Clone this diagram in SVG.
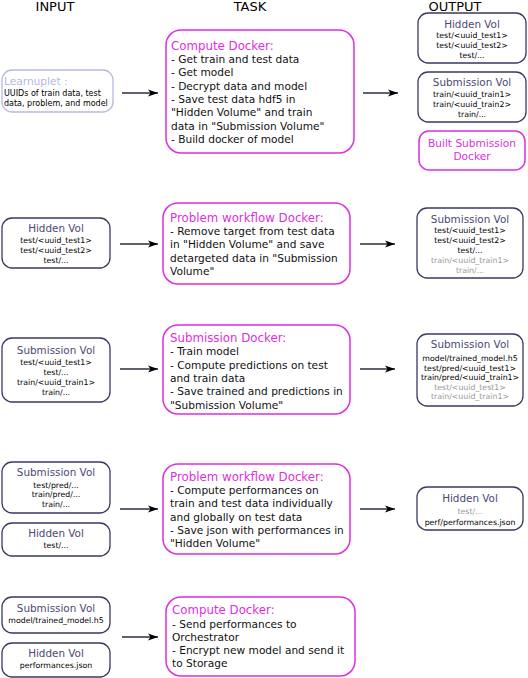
<svg xmlns="http://www.w3.org/2000/svg" width="528" height="678" viewBox="0 0 528 678">
<style>
text{font-family:"DejaVu Sans","Liberation Sans",sans-serif}
.hdr{font-size:13px;fill:#000;text-anchor:middle}
.vol{fill:#fff;stroke:#3b3960;stroke-width:1.3}
.task{fill:#fff;stroke:#dd2fdd;stroke-width:1.5}
.vt{font-size:10.4px;fill:#4b4974;text-anchor:middle}
.vc{font-size:7.8px;fill:#000;text-anchor:middle}
.vg{font-size:7.8px;fill:#999;text-anchor:middle}
.tt{font-size:11.8px;fill:#dd2fdd}
.tb{font-size:10.6px;fill:#111}
.conn line{stroke:#2e2c44;stroke-width:1.3;marker-end:url(#ah)}
</style>
<defs>
<marker id="ah" viewBox="-11 -5 12 10" refX="0" refY="0" markerWidth="12" markerHeight="10" orient="auto" markerUnits="userSpaceOnUse">
<path d="M0,0 L-10,-3.6 L-7.5,0 L-10,3.6 Z" fill="#000"/>
</marker>
</defs>
<rect width="528" height="678" fill="#fff"/>
<g id="headers">
<text class="hdr" x="55" y="10.5">INPUT</text>
<text class="hdr" x="250" y="10.5">TASK</text>
<text class="hdr" x="455" y="10.5">OUTPUT</text>
</g>

<!-- Row 1 -->
<g id="learnuplet">
<rect x="2" y="70" width="111" height="42" rx="10" fill="#fff" stroke="#b6bae2" stroke-width="1.3"/>
<text x="4" y="85" style="font-size:10.6px;fill:#b3b7e3">Learnuplet :</text>
<text x="4" y="96" style="font-size:8px;fill:#000">UUIDs of train data, test</text>
<text x="4" y="106" style="font-size:8px;fill:#000">data, problem, and model</text>
</g>
<g id="task1">
<rect class="task" x="166" y="30" width="188" height="123" rx="15"/>
<text class="tt" x="171" y="49.5">Compute Docker:</text>
<text class="tb" x="171" y="63">- Get train and test data</text>
<text class="tb" x="171" y="76.3">- Get model</text>
<text class="tb" x="171" y="89.6">- Decrypt data and model</text>
<text class="tb" x="171" y="102.9">- Save test data hdf5 in</text>
<text class="tb" x="171" y="116.2">"Hidden Volume" and train</text>
<text class="tb" x="171" y="129.5">data in "Submission Volume"</text>
<text class="tb" x="171" y="142.8">- Build docker of model</text>
</g>
<g id="out1-hidden">
<rect class="vol" x="418" y="13" width="108" height="50" rx="10"/>
<text class="vt" x="472" y="28">Hidden Vol</text>
<text class="vc" x="472" y="38">test/&lt;uuid_test1&gt;</text>
<text class="vc" x="472" y="48">test/&lt;uuid_test2&gt;</text>
<text class="vc" x="472" y="58">test/...</text>
</g>
<g id="out1-submission">
<rect class="vol" x="418" y="72" width="108" height="50" rx="10"/>
<text class="vt" x="472" y="86">Submission Vol</text>
<text class="vc" x="472" y="97">train/&lt;uuid_train1&gt;</text>
<text class="vc" x="472" y="107">train/&lt;uuid_train2&gt;</text>
<text class="vc" x="472" y="117">train/...</text>
</g>
<g id="out1-built">
<rect class="task" x="419" y="131" width="106" height="39" rx="10"/>
<text x="472" y="147" style="font-size:10.6px;fill:#dd2fdd;text-anchor:middle">Built Submission</text>
<text x="472" y="160" style="font-size:10.6px;fill:#dd2fdd;text-anchor:middle">Docker</text>
</g>

<!-- Row 2 -->
<g id="in2-hidden">
<rect class="vol" x="2" y="218" width="108" height="50" rx="10"/>
<text class="vt" x="56" y="232">Hidden Vol</text>
<text class="vc" x="56" y="242.5">test/&lt;uuid_test1&gt;</text>
<text class="vc" x="56" y="252.5">test/&lt;uuid_test2&gt;</text>
<text class="vc" x="56" y="262.5">test/...</text>
</g>
<g id="task2">
<rect class="task" x="163" y="203" width="187" height="81" rx="15"/>
<text class="tt" x="170" y="221.5">Problem workflow Docker:</text>
<text class="tb" x="170" y="235">- Remove target from test data</text>
<text class="tb" x="170" y="248.3">in "Hidden Volume" and save</text>
<text class="tb" x="170" y="261.6">detargeted data in "Submission</text>
<text class="tb" x="170" y="274.9">Volume"</text>
</g>
<g id="out2-submission">
<rect class="vol" x="417" y="208" width="106" height="70" rx="10"/>
<text class="vt" x="470" y="223">Submission Vol</text>
<text class="vc" x="470" y="233">test/&lt;uuid_test1&gt;</text>
<text class="vc" x="470" y="243">test/&lt;uuid_test2&gt;</text>
<text class="vc" x="470" y="253">test/...</text>
<text class="vg" x="470" y="263">train/&lt;uuid_train1&gt;</text>
<text class="vg" x="470" y="273">train/...</text>
</g>

<!-- Row 3 -->
<g id="in3-submission">
<rect class="vol" x="2" y="338" width="108" height="64" rx="10"/>
<text class="vt" x="56" y="354">Submission Vol</text>
<text class="vc" x="56" y="364.5">test/&lt;uuid_test1&gt;</text>
<text class="vc" x="56" y="374.5">test/...</text>
<text class="vc" x="56" y="384.5">train/&lt;uuid_train1&gt;</text>
<text class="vc" x="56" y="394.5">train/...</text>
</g>
<g id="task3">
<rect class="task" x="163" y="325" width="187" height="89" rx="15"/>
<text class="tt" x="170" y="342">Submission Docker:</text>
<text class="tb" x="170" y="355.3">- Train model</text>
<text class="tb" x="170" y="368.6">- Compute predictions on test</text>
<text class="tb" x="170" y="381.9">and train data</text>
<text class="tb" x="170" y="395.2">- Save trained and predictions in</text>
<text class="tb" x="170" y="408.5">"Submission Volume"</text>
</g>
<g id="out3-submission">
<rect class="vol" x="417" y="334" width="106" height="72" rx="10"/>
<text class="vt" x="470" y="348">Submission Vol</text>
<text class="vc" x="470" y="361">model/trained_model.h5</text>
<text class="vc" x="470" y="370.6">test/pred/&lt;uuid_test1&gt;</text>
<text class="vc" x="470" y="380.2">train/pred/&lt;uuid_train1&gt;</text>
<text class="vg" x="470" y="389.8">test/&lt;uuid_test1&gt;</text>
<text class="vg" x="470" y="399.4">train/&lt;uuid_train1&gt;</text>
</g>

<!-- Row 4 -->
<g id="in4-submission">
<rect class="vol" x="2" y="462" width="108" height="51" rx="10"/>
<text class="vt" x="56" y="476">Submission Vol</text>
<text class="vc" x="56" y="487.5">test/pred/...</text>
<text class="vc" x="56" y="497">train/pred/...</text>
<text class="vc" x="56" y="507">train/...</text>
</g>
<g id="in4-hidden">
<rect class="vol" x="2" y="523" width="108" height="33" rx="10"/>
<text class="vt" x="56" y="536.5">Hidden Vol</text>
<text class="vc" x="56" y="547.5">test/...</text>
</g>
<g id="task4">
<rect class="task" x="163" y="464" width="187" height="90" rx="15"/>
<text class="tt" x="170" y="480.5">Problem workflow Docker:</text>
<text class="tb" x="170" y="494">- Compute performances on</text>
<text class="tb" x="170" y="507.3">train and test data individually</text>
<text class="tb" x="170" y="520.6">and globally on test data</text>
<text class="tb" x="170" y="533.9">- Save json with performances in</text>
<text class="tb" x="170" y="547.2">"Hidden Volume"</text>
</g>
<g id="out4-hidden">
<rect class="vol" x="417" y="487" width="106" height="43" rx="10"/>
<text class="vt" x="470" y="502">Hidden Vol</text>
<text class="vg" x="470" y="514">test/...</text>
<text class="vc" x="470" y="524.5">perf/performances.json</text>
</g>

<!-- Row 5 -->
<g id="in5-submission">
<rect class="vol" x="2" y="597" width="108" height="36" rx="10"/>
<text class="vt" x="56" y="612">Submission Vol</text>
<text class="vc" x="56" y="622.5">model/trained_model.h5</text>
</g>
<g id="in5-hidden">
<rect class="vol" x="2" y="643" width="108" height="34" rx="10"/>
<text class="vt" x="56" y="657">Hidden Vol</text>
<text class="vc" x="56" y="668">performances.json</text>
</g>
<g id="task5">
<rect class="task" x="166" y="597" width="189" height="79" rx="15"/>
<text class="tt" x="172" y="614">Compute Docker:</text>
<text class="tb" x="172" y="627.5">- Send performances to</text>
<text class="tb" x="172" y="640.8">Orchestrator</text>
<text class="tb" x="172" y="654.1">- Encrypt new model and send it</text>
<text class="tb" x="172" y="667.4">to Storage</text>
</g>

<g id="connectors" class="conn">
<line x1="122" y1="93" x2="158" y2="93"/>
<line x1="363" y1="93" x2="398" y2="93"/>
<line x1="120" y1="244" x2="158" y2="244"/>
<line x1="360" y1="244" x2="395" y2="244"/>
<line x1="120" y1="369" x2="158" y2="369"/>
<line x1="360" y1="369" x2="395" y2="369"/>
<line x1="120" y1="509" x2="158" y2="509"/>
<line x1="360" y1="509" x2="395" y2="509"/>
<line x1="122" y1="637" x2="158" y2="637"/>
</g>
</svg>
